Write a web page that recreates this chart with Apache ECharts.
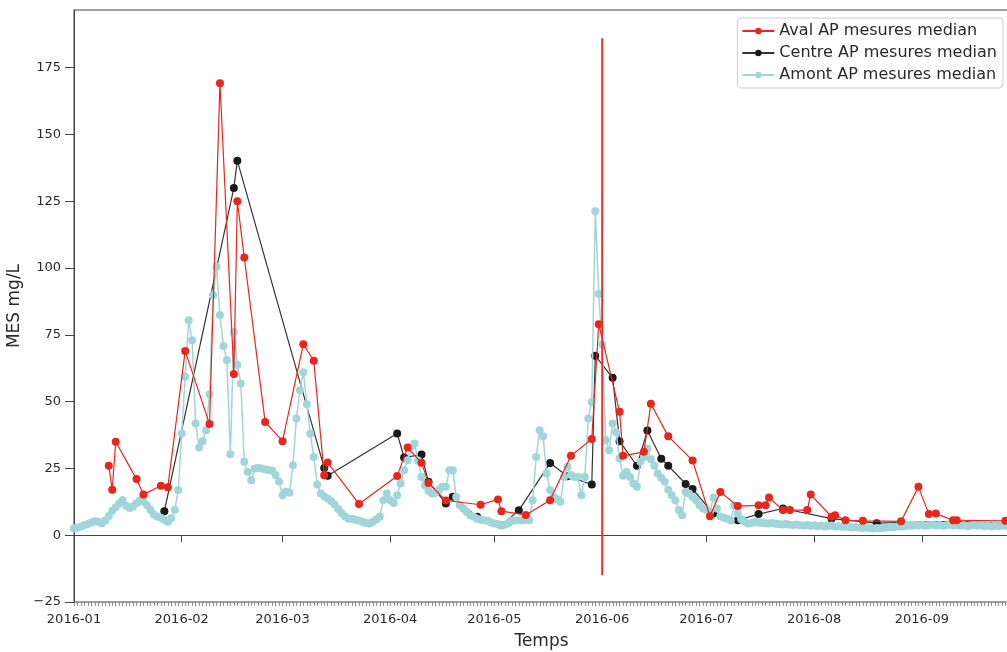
<!DOCTYPE html>
<html><head><meta charset="utf-8">
<script src="https://cdn.jsdelivr.net/npm/echarts@6/dist/echarts.min.js"></script>
<style>html,body{margin:0;padding:0;background:#fff}#c{width:1007px;height:652px}</style>
</head><body><div id="c"></div><script>
// ---- data ----
const avalDates = ['2016-01-11','2016-01-12','2016-01-13','2016-01-19','2016-01-21','2016-01-26','2016-01-28','2016-02-02','2016-02-09','2016-02-12','2016-02-16','2016-02-17','2016-02-19','2016-02-25','2016-03-01','2016-03-07','2016-03-10','2016-03-13','2016-03-14','2016-03-23','2016-04-03','2016-04-06','2016-04-10','2016-04-12','2016-04-17','2016-04-27','2016-05-02','2016-05-03','2016-05-10','2016-05-17','2016-05-23','2016-05-29','2016-05-31','2016-06-06','2016-06-07','2016-06-13','2016-06-15','2016-06-20','2016-06-27','2016-07-02','2016-07-05','2016-07-10','2016-07-16','2016-07-18','2016-07-19','2016-07-23','2016-07-25','2016-07-30','2016-07-31','2016-08-06','2016-08-07','2016-08-10','2016-08-15','2016-08-26','2016-08-31','2016-09-03','2016-09-05','2016-09-10','2016-09-11','2016-09-25'];
const avalValues = [26,17,35,21,15.2,18.5,18,69,41.6,169.2,60.3,125,104,42.4,35.2,71.5,65.3,22.4,27.2,11.7,22.2,32.8,27.1,19.5,13,11.4,13.4,9,7.6,13.1,29.7,36,79,46.2,29.7,31.2,49.2,37,28,7.1,16.2,10.9,11.2,11.2,14.1,9.4,9.4,9.4,15.2,6.9,7.5,5.6,5.4,5.2,18.1,7.9,8.1,5.6,5.6,5.4];

const centreDates = ['2016-01-27','2016-02-16','2016-02-17','2016-03-13','2016-03-14','2016-04-03','2016-04-05','2016-04-10','2016-04-12','2016-04-17','2016-04-19','2016-04-26','2016-05-03','2016-05-08','2016-05-17','2016-05-22','2016-05-29','2016-05-30','2016-06-04','2016-06-06','2016-06-11','2016-06-14','2016-06-18','2016-06-20','2016-06-25','2016-06-27','2016-07-03','2016-07-10','2016-07-16','2016-07-23','2016-08-06','2016-08-19','2016-09-10','2016-09-25'];
const centreValues = [9,130,140.2,25.2,22.3,38.1,29.1,30.2,20,11.9,14.4,6.9,3.7,9.3,27,22.1,19,67.2,58.9,35.2,26,39.2,28.6,26,19.2,17.3,8.1,5.6,7.9,10,6.2,4.5,5.2,4.5];

// daily values starting 2016-01-01
const amontStart = '2016-01-01';
const amontValues = [
  // Jan
  2.5,2.8,3.3,3.8,4.2,4.8,5.2,5.0,4.5,5.5,7.2,9.2,10.5,12.0,13.2,11.0,10.2,10.8,12.0,13.1,12.6,11.2,9.5,7.8,6.9,6.5,5.8,5.0,6.4,9.5,16.9,
  // Feb
  38.1,59.3,80.5,73,41.8,32.8,35.2,39.3,52.8,89.9,100.5,82.4,70.8,65.5,30.3,76.1,63.7,56.8,27.5,23.7,20.6,25,25.2,25,24.6,24.4,24.2,22.5,20.1,
  // Mar
  15,16.3,15.9,26.2,43.7,54.3,61,49,38,29.3,19,15.6,14.5,13.7,12.7,11.5,9.8,8.3,7.0,6.2,6.2,5.8,5.5,5.0,4.6,4.4,5.0,5.9,6.9,13.1,15.6,
  // Apr
  13.1,12.1,15,19.4,24.3,28.1,33,34.3,28,21.8,18.7,16.6,15.6,15.8,16.9,18.1,18.1,24.3,24.3,14.3,11.2,10,8.7,7.5,6.9,6.2,5.8,5.6,5.4,4.8,
  // May
  4.4,4.1,3.7,4.0,4.4,5.4,5.5,5.6,5.6,5.9,5.6,13.1,29.3,39.3,37,23.1,16.9,14.3,13.5,12.5,21.8,25.6,22.5,21.8,21.8,15,21.8,43.7,49.9,121.3,90.3,
  // Jun
  71.4,35.6,31.8,41.8,38.5,28.7,22.3,23.7,21.8,19.4,18.1,27.5,29.3,32.5,28.4,26,23.1,21.5,20,17,15,13.1,9.4,7.5,16.2,15.6,14.3,13.1,11.2,10,
  // Jul
  9.5,8.7,14,10,7,6.5,6.2,5.6,11.2,8,6,5,4.4,4.6,5,4.8,4.6,4.5,4.4,4.6,4.3,4.1,4.0,4.2,3.9,3.8,4.0,3.7,3.6,3.8,3.5,
  // Aug
  3.7,3.4,3.6,3.3,3.5,3.6,3.2,3.4,3.1,3.3,3.0,2.9,3.1,2.8,2.7,2.9,2.6,2.5,2.7,2.6,2.8,2.9,3.1,3.0,3.3,3.2,3.4,3.6,3.5,3.7,3.6,
  // Sep
  3.8,3.5,3.7,3.9,3.6,3.8,3.5,3.7,3.9,3.6,3.8,3.5,3.7,3.4,3.6,3.8,3.5,3.7,3.4,3.6,3.3,3.5,3.4,3.6,3.5
];

const seriesNames = ['Aval AP mesures median','Centre AP mesures median','Amont AP mesures median'];
const markerDate = '2016-06-01';
const markerRange = [-15, 186];
const xMinDate = '2016-01-01';
const xMaxDate = '2016-09-26';
const yTicks = { min: -25, max: 196.6, interval: 25 };

// ---- helpers ----
const DAY = 86400000;
function ts(s){ const p = s.split('-').map(Number); return Date.UTC(p[0], p[1]-1, p[2]); }
function pairs(dates, vals){ return dates.map((d,i)=>[ts(d), vals[i]]); }
const amontData = amontValues.map((v,i)=>[ts(amontStart) + i*DAY, v]);
const xMin = ts(xMinDate), xMax = ts(xMaxDate) + 0.06*DAY;

const FONT = 'DejaVu Sans';
const TXT = '#2a2a2a';
const RED = '#e8261c', BLACK = '#1a1a1a', CYAN = '#a0d6da';

const chart = echarts.init(document.getElementById('c'), null, {renderer:'canvas'});
chart.setOption({
  animation: false,
  useUTC: true,
  backgroundColor: '#fff',
  grid: { left: 74, top: 10, right: -2, bottom: 50, containLabel: false, outerBoundsMode: 'none',
    show: true, borderColor: '#444', borderWidth: 1, backgroundColor: 'transparent' },
  legend: {
    data: seriesNames,
    orient: 'vertical', right: 4, top: 18,
    itemWidth: 32, itemHeight: 8, itemGap: 6,
    padding: [5, 6, 5, 4],
    borderColor: '#ccc', borderWidth: 1, borderRadius: 4,
    backgroundColor: '#fff',
    textStyle: { fontFamily: FONT, fontSize: 16, color: TXT }
  },
  xAxis: [{
    type: 'time', min: xMin, max: xMax,
    minInterval: 28*DAY, maxInterval: 31*DAY,
    name: 'Temps', nameLocation: 'middle', nameGap: 31,
    nameTextStyle: { fontFamily: FONT, fontSize: 17, color: TXT },
    axisLine: { show: true, lineStyle: { color: '#444' } },
    axisTick: { show: true, inside: false, length: 7, lineStyle: { color: '#444' } },
    axisLabel: { fontFamily: FONT, fontSize: 13, color: TXT, margin: 11, hideOverlap: false,
      formatter: v => { const d = new Date(v); return d.getUTCFullYear() + '-' + String(d.getUTCMonth()+1).padStart(2,'0'); } },
    splitLine: { show: false }
  }, {
    type: 'value', min: xMin, max: xMin + Math.floor((xMax - xMin)/DAY)*DAY, interval: DAY,
    position: 'bottom',
    axisLine: { show: false },
    axisTick: { show: true, length: 4, lineStyle: { color: '#777', width: 0.8 } },
    axisLabel: { show: false },
    splitLine: { show: false }
  }],
  yAxis: {
    type: 'value', min: yTicks.min, max: yTicks.max, interval: yTicks.interval,
    name: 'MES mg/L', nameLocation: 'middle', nameGap: 46,
    nameTextStyle: { fontFamily: FONT, fontSize: 17, color: TXT },
    axisLine: { show: true, lineStyle: { color: '#444' } },
    axisTick: { show: true, length: 9, lineStyle: { color: '#444' } },
    axisLabel: { fontFamily: FONT, fontSize: 13, color: TXT, margin: 13, showMaxLabel: false,
      formatter: v => v < 0 ? '\u2212' + Math.abs(v) : String(v) },
    splitLine: { show: false }
  },
  series: [
    { name: seriesNames[1], type: 'line', z: 2, data: pairs(centreDates, centreValues),
      symbol: 'circle', symbolSize: 8, showSymbol: true,
      lineStyle: { color: '#333', width: 1.2 }, itemStyle: { color: BLACK } },
    { name: seriesNames[2], type: 'line', z: 3, data: amontData,
      symbol: 'circle', symbolSize: 8, showSymbol: true,
      lineStyle: { color: CYAN, width: 1.5 }, itemStyle: { color: CYAN } },
    { name: seriesNames[0], type: 'line', z: 4, data: pairs(avalDates, avalValues),
      symbol: 'circle', symbolSize: 8, showSymbol: true,
      lineStyle: { color: RED, width: 1.2 }, itemStyle: { color: RED } },
    { name: 'marker', type: 'line', z: 5, data: markerRange.map(v => [ts(markerDate), v]),
      symbol: 'none', lineStyle: { color: '#e8352c', width: 2 }, silent: true }
  ]
});
</script></body></html>
